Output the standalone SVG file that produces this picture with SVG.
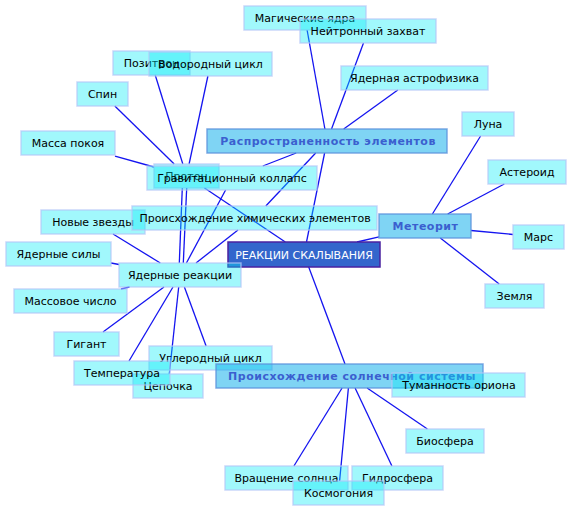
<svg xmlns="http://www.w3.org/2000/svg" width="572" height="512" viewBox="0 0 572 512">
<style>
.n rect{fill:#00ecf7;fill-opacity:0.37;stroke:#b4c4f6;stroke-opacity:0.7;stroke-width:1.5}
.n text{font-family:"DejaVu Sans","Liberation Sans",sans-serif;font-size:11px;fill:#000;text-anchor:middle}
.c rect{fill:#00a9e9;fill-opacity:0.5;stroke:#5c94dc;stroke-opacity:0.8;stroke-width:1.5}
.c text{font-family:"DejaVu Sans","Liberation Sans",sans-serif;font-size:11px;font-weight:bold;letter-spacing:0.5px;fill:#3b5fcf;text-anchor:middle}
.m rect{fill:#3366cc;stroke:#4a22a0;stroke-width:1.5}
.m text{font-family:"DejaVu Sans","Liberation Sans",sans-serif;font-size:11px;fill:#fff;text-anchor:middle}
#edges line{stroke:#1414f0;stroke-width:1.3}
</style>
<g id="edges">
<line x1="307.1" y1="30" x2="324.9" y2="129"/>
<line x1="363.5" y1="43" x2="331.5" y2="129"/>
<line x1="397.8" y1="90" x2="343.7" y2="129"/>
<line x1="324.6" y1="153" x2="306.5" y2="242"/>
<line x1="296.2" y1="153" x2="262.8" y2="166"/>
<line x1="315.7" y1="153" x2="265.8" y2="206"/>
<line x1="155.2" y1="75" x2="182.8" y2="164"/>
<line x1="207.9" y1="76" x2="189.1" y2="164"/>
<line x1="114.8" y1="106" x2="174.2" y2="164"/>
<line x1="115" y1="156.1" x2="154" y2="167"/>
<line x1="204.5" y1="188" x2="285.3" y2="242"/>
<line x1="182.3" y1="188" x2="179.3" y2="263"/>
<line x1="186.7" y1="188" x2="183.3" y2="263"/>
<line x1="225.6" y1="190" x2="186.4" y2="263"/>
<line x1="238" y1="230" x2="196" y2="263"/>
<line x1="113" y1="234" x2="160.3" y2="263"/>
<line x1="111" y1="263" x2="119" y2="264.5"/>
<line x1="121" y1="289" x2="129.5" y2="287"/>
<line x1="103" y1="332" x2="164" y2="287"/>
<line x1="129" y1="361" x2="173" y2="287"/>
<line x1="169.3" y1="374" x2="178.7" y2="287"/>
<line x1="206.1" y1="346" x2="184.4" y2="287"/>
<line x1="357" y1="242" x2="379" y2="236.8"/>
<line x1="308.7" y1="267" x2="345" y2="364"/>
<line x1="480.6" y1="136" x2="432.4" y2="214"/>
<line x1="504.3" y1="184" x2="447.7" y2="214"/>
<line x1="513" y1="234.5" x2="471" y2="230.5"/>
<line x1="499.2" y1="284" x2="440.3" y2="238"/>
<line x1="427.4" y1="429" x2="367.1" y2="388"/>
<line x1="391.9" y1="466" x2="355.1" y2="388"/>
<line x1="339.6" y1="481" x2="348.4" y2="388"/>
<line x1="293.9" y1="466" x2="342.1" y2="388"/>
</g>
<g id="mag" class="n"><rect x="244" y="6" width="122" height="24"/><text x="305" y="22">Магические ядра</text></g>
<g id="neut" class="n"><rect x="300" y="19" width="136" height="24"/><text x="368" y="35">Нейтронный захват</text></g>
<g id="astro" class="n"><rect x="341" y="66" width="147" height="24"/><text x="414.5" y="82">Ядерная астрофизика</text></g>
<g id="luna" class="n"><rect x="462" y="112" width="52" height="24"/><text x="488" y="128">Луна</text></g>
<g id="aster" class="n"><rect x="488" y="160" width="78" height="24"/><text x="527" y="176">Астероид</text></g>
<g id="rasp" class="c"><rect x="207" y="129" width="240" height="24"/><text x="328" y="145">Распространенность элементов</text></g>
<g id="pozi" class="n"><rect x="113" y="51" width="77" height="24"/><text x="151.5" y="67">Позитрон</text></g>
<g id="vodo" class="n"><rect x="149" y="52" width="123" height="24"/><text x="210.5" y="68">Водородный цикл</text></g>
<g id="spin" class="n"><rect x="77" y="82" width="51" height="24"/><text x="102.5" y="98">Спин</text></g>
<g id="massa" class="n"><rect x="21" y="131" width="94" height="24"/><text x="68" y="147">Масса покоя</text></g>
<g id="proton" class="n"><rect x="154" y="164" width="65" height="24"/><text x="186.5" y="180">Протон</text></g>
<g id="grav" class="n"><rect x="147" y="166" width="170" height="24"/><text x="232" y="182">Гравитационный коллапс</text></g>
<g id="novye" class="n"><rect x="41" y="210" width="104" height="24"/><text x="93" y="226">Новые звезды</text></g>
<g id="him" class="n"><rect x="132" y="206" width="245" height="24"/><text x="255" y="222">Происхождение химических элементов</text></g>
<g id="sily" class="n"><rect x="6" y="242" width="105" height="24"/><text x="58.5" y="258">Ядерные силы</text></g>
<g id="center" class="m"><rect x="228" y="242" width="152" height="25"/><text x="304" y="259">РЕАКЦИИ СКАЛЫВАНИЯ</text></g>
<g id="yadr" class="n"><rect x="119" y="263" width="122" height="24"/><text x="180" y="279">Ядерные реакции</text></g>
<g id="massch" class="n"><rect x="14" y="289" width="113" height="24"/><text x="70.5" y="305">Массовое число</text></g>
<g id="gigant" class="n"><rect x="54" y="332" width="65" height="24"/><text x="86.5" y="348">Гигант</text></g>
<g id="uglerod" class="n"><rect x="149" y="346" width="123" height="24"/><text x="210.5" y="362">Углеродный цикл</text></g>
<g id="cep" class="n"><rect x="133" y="374" width="70" height="24"/><text x="168" y="390">Цепочка</text></g>
<g id="temp" class="n"><rect x="74" y="361" width="96" height="24"/><text x="122" y="377">Температура</text></g>
<g id="meteor" class="c"><rect x="379" y="214" width="92" height="24"/><text x="425.5" y="230">Метеорит</text></g>
<g id="mars" class="n"><rect x="513" y="225" width="51" height="24"/><text x="538.5" y="241">Марс</text></g>
<g id="zemlya" class="n"><rect x="485" y="284" width="59" height="24"/><text x="514.5" y="300">Земля</text></g>
<g id="solar" class="c"><rect x="216" y="364" width="267" height="24"/><text x="352" y="380">Происхождение солнечной системы</text></g>
<g id="tuman" class="n"><rect x="392" y="373" width="133" height="24"/><text x="459" y="389">Туманность ориона</text></g>
<g id="bio" class="n"><rect x="406" y="429" width="78" height="24"/><text x="445" y="445">Биосфера</text></g>
<g id="vrash" class="n"><rect x="225" y="466" width="123" height="24"/><text x="286.5" y="482">Вращение солнца</text></g>
<g id="gidro" class="n"><rect x="352" y="466" width="91" height="24"/><text x="397.5" y="482">Гидросфера</text></g>
<g id="kosmo" class="n"><rect x="293" y="481" width="91" height="24"/><text x="338.5" y="497">Космогония</text></g>
</svg>
